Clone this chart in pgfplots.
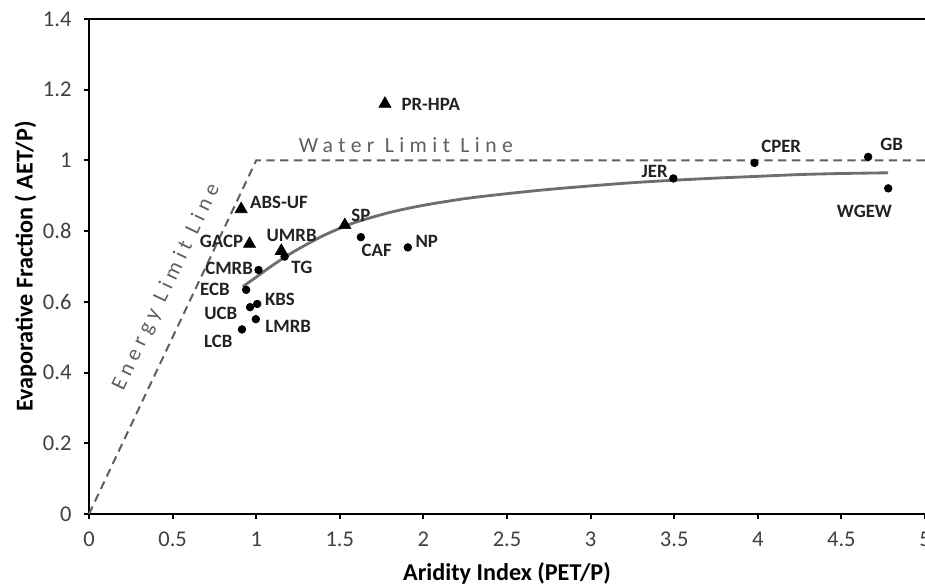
\documentclass[border=0pt]{standalone}
\usepackage{fontspec}
\setmainfont{Carlito}
\newfontfamily\spaced[LetterSpace=25]{Carlito}
\usepackage{pgfplots}
\pgfplotsset{compat=1.18}
\definecolor{limgray}{HTML}{5F5F5F}
\definecolor{curvegray}{HTML}{6E6E6E}
\definecolor{labgray}{HTML}{222222}
\definecolor{tickgray}{HTML}{404040}
\tikzset{lab/.style={font=\fontsize{11.3}{13}\selectfont\bfseries, text=labgray, inner sep=0pt}}

\begin{document}
\begin{tikzpicture}
\begin{axis}[
    width=501.6pt, height=297pt, scale only axis,
    xmin=0, xmax=5, ymin=0, ymax=1.4,
    xtick={0,0.5,...,5}, ytick={0,0.2,...,1.4},
    axis x line*=box, axis y line*=left,
    xtick pos=bottom, ytick pos=left,
    tick align=outside, major tick length=3pt,
    axis line style={line width=1.2pt, black},
    every tick/.style={line width=1.2pt, black},
    /pgf/number format/assume math mode=true,
    /pgf/number format/fixed,
    ticklabel style={font=\fontsize{13.5}{15}\selectfont, text=tickgray},
    xticklabel style={yshift=-4.5pt},
    yticklabel style={xshift=-4pt},
    xlabel={\textbf{Aridity Index (PET/P)}},
    ylabel={\textbf{Evaporative Fraction ( AET/P)}},
    label style={font=\fontsize{14.5}{16}\selectfont, text=black},
    xlabel style={yshift=-2.5pt},
    ylabel style={yshift=-3pt},
    clip=false,
  ]
  % limit lines
  \addplot[limgray, line width=1.2pt, dash pattern=on 5pt off 3.3pt] coordinates {(0,0) (1,1) (5,1)};
  % fitted curve
  \addplot[curvegray, line width=1.7pt, smooth] coordinates {
    (0.92,0.643) (1.0,0.670) (1.1,0.704) (1.2,0.735) (1.3,0.762) (1.4,0.787)
    (1.5,0.808) (1.6,0.826) (1.8,0.853) (2.0,0.873) (2.25,0.892) (2.5,0.906)
    (2.75,0.918) (3.0,0.928) (3.25,0.937) (3.5,0.944) (3.75,0.950) (4.0,0.955)
    (4.25,0.960) (4.5,0.963) (4.78,0.965)};
  % sites (circles)
  \addplot[only marks, mark=*, mark size=2.3pt, black] coordinates {
    (1.014,0.690) (1.17,0.728) (0.94,0.634) (1.006,0.594) (0.963,0.585)
    (0.998,0.551) (0.915,0.522) (1.626,0.783) (1.907,0.754) (3.495,0.949)
    (3.98,0.993) (4.66,1.010) (4.78,0.921)};
  % sites (triangles)
  \addplot[only marks, mark=triangle*, mark size=4.2pt, black] coordinates {
    (1.77,1.160) (0.91,0.862) (0.96,0.764) (1.15,0.744) (1.53,0.817)};
  % labels
  \node[lab] at (axis cs:2.044,1.159) {PR-HPA};
  \node[lab] at (axis cs:1.136,0.880) {ABS-UF};
  \node[lab] at (axis cs:0.793,0.770) {GACP};
  \node[lab] at (axis cs:1.212,0.789) {UMRB};
  \node[lab] at (axis cs:1.273,0.698) {TG};
  \node[lab] at (axis cs:1.626,0.844) {SP};
  \node[lab] at (axis cs:1.721,0.745) {CAF};
  \node[lab] at (axis cs:2.02,0.772) {NP};
  \node[lab] at (axis cs:0.838,0.695) {CMRB};
  \node[lab] at (axis cs:0.753,0.635) {ECB};
  \node[lab] at (axis cs:1.142,0.608) {KBS};
  \node[lab] at (axis cs:0.788,0.568) {UCB};
  \node[lab] at (axis cs:1.191,0.530) {LMRB};
  \node[lab] at (axis cs:0.773,0.487) {LCB};
  \node[lab] at (axis cs:3.383,0.968) {JER};
  \node[lab] at (axis cs:4.14,1.041) {CPER};
  \node[lab] at (axis cs:4.80,1.046) {GB};
  \node[lab] at (axis cs:4.638,0.855) {WGEW};
  \node[font=\fontsize{13}{15}\selectfont\spaced, text=limgray, inner sep=0pt] at (axis cs:1.895,1.044) {Water Limit Line};
  \node[font=\fontsize{13}{15}\selectfont\spaced, text=limgray, inner sep=0pt, rotate=64.7] at (axis cs:0.463,0.641) {Energy Limit Line};
\end{axis}
\pgfresetboundingbox
\path ([xshift=-53.4pt,yshift=-43.2pt]current axis.south west) rectangle ([yshift=11.4pt]current axis.north east);
\end{tikzpicture}
\end{document}
